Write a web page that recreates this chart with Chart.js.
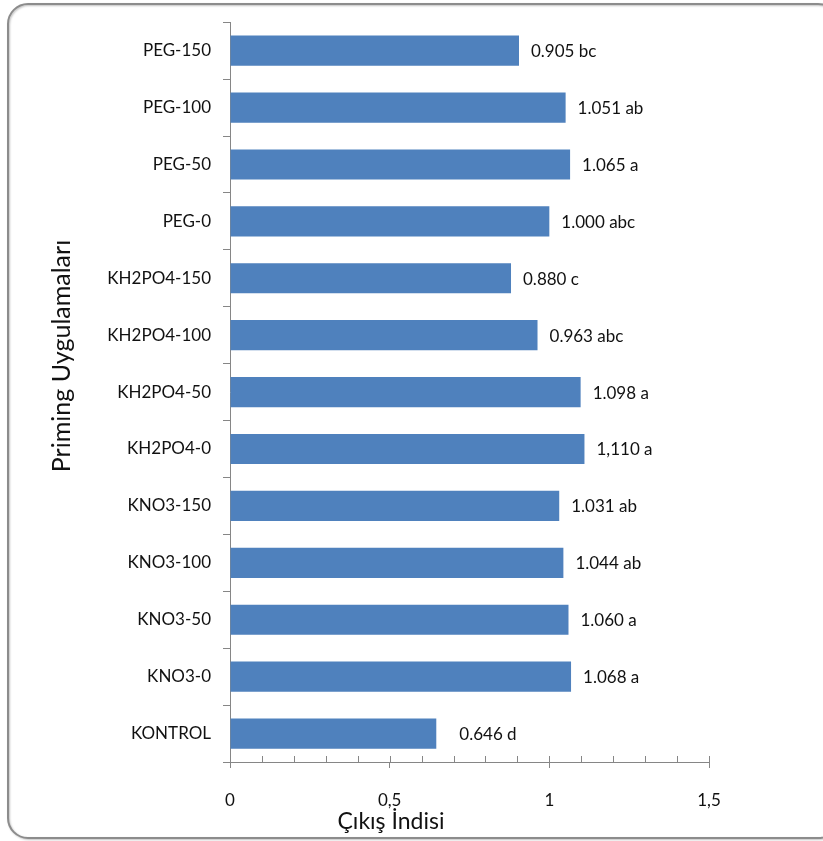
<!DOCTYPE html>
<html>
<head>
<meta charset="utf-8">
<script src="https://cdn.jsdelivr.net/npm/chart.js@4.4.0/dist/chart.umd.min.js"></script>
<style>
  html, body { margin: 0; padding: 0; background: #ffffff; }
  #wrap { width: 823px; height: 841px; position: relative; }
</style>
</head>
<body>
<div id="wrap"><canvas id="chart" width="823" height="841"></canvas></div>
<script>
// Priming treatments, listed top to bottom
const categories = [
  'PEG-150', 'PEG-100', 'PEG-50', 'PEG-0',
  'KH2PO4-150', 'KH2PO4-100', 'KH2PO4-50', 'KH2PO4-0',
  'KNO3-150', 'KNO3-100', 'KNO3-50', 'KNO3-0',
  'KONTROL'
];
// Emergence index per treatment
const values = [0.905, 1.051, 1.065, 1.000, 0.880, 0.963, 1.098, 1.110, 1.031, 1.044, 1.060, 1.068, 0.646];
// Significance groups
const groupLetters = ['bc', 'ab', 'a', 'abc', 'c', 'abc', 'a', 'a', 'ab', 'ab', 'a', 'a', 'd'];
// Decimal mark used in each value label
const decimalMarks = ['.', '.', '.', '.', '.', '.', '.', ',', '.', '.', '.', '.', '.'];
// Labelled x-axis ticks
const xTickValues = [0, 0.5, 1, 1.5];
const xTickLabels = ['0', '0,5', '1', '1,5'];

const FONT = 'Lato, "Liberation Sans", sans-serif';
const AXIS = '#868686';
const BAR = '#4F81BD';
const TEXT = '#111111';

function majorIndex(v) {
  return xTickValues.findIndex(t => Math.abs(t - v) < 1e-6);
}
function valueLabel(i) {
  return values[i].toFixed(3).replace('.', decimalMarks[i]) + ' ' + groupLetters[i];
}

// Rounded outer frame
const framePlugin = {
  id: 'frame',
  beforeDraw(chart) {
    const ctx = chart.ctx;
    ctx.save();
    ctx.shadowColor = 'rgba(0,0,0,0.25)';
    ctx.shadowBlur = 2;
    ctx.shadowOffsetX = 1;
    ctx.shadowOffsetY = 1;
    ctx.strokeStyle = '#8c8c8c';
    ctx.lineWidth = 2;
    ctx.beginPath();
    ctx.roundRect(8, 4, 830, 834, 20);
    ctx.stroke();
    ctx.restore();
  }
};

// Short ticks on the inner side of the value axis
const innerTicksPlugin = {
  id: 'innerTicks',
  afterDatasetsDraw(chart) {
    const xs = chart.scales.x;
    const ctx = chart.ctx;
    ctx.save();
    ctx.strokeStyle = AXIS;
    ctx.lineWidth = 1;
    xs.ticks.forEach(t => {
      const px = Math.round(xs.getPixelForValue(t.value)) + 0.5;
      ctx.beginPath();
      ctx.moveTo(px, xs.top);
      ctx.lineTo(px, xs.top - 6);
      ctx.stroke();
    });
    ctx.restore();
  }
};

// Value + group letters beside each bar
const valueLabelsPlugin = {
  id: 'valueLabels',
  afterDatasetsDraw(chart) {
    const ctx = chart.ctx;
    const meta = chart.getDatasetMeta(0);
    // the control label sits a little further out from its bar
    const extraGap = { KONTROL: 11 };
    ctx.save();
    ctx.fillStyle = TEXT;
    ctx.font = '17px ' + FONT;
    ctx.textAlign = 'left';
    ctx.textBaseline = 'middle';
    meta.data.forEach((bar, i) => {
      const gap = 12 + (extraGap[categories[i]] || 0);
      ctx.fillText(valueLabel(i), bar.x + gap, bar.y + 1);
    });
    ctx.restore();
  }
};

// Axis titles
const axisTitlesPlugin = {
  id: 'axisTitles',
  afterDraw(chart) {
    const ctx = chart.ctx;
    ctx.save();
    ctx.fillStyle = TEXT;
    ctx.textAlign = 'center';
    ctx.textBaseline = 'middle';
    ctx.font = '23px ' + FONT;
    ctx.fillText('Çıkış İndisi', 391, 822);
    ctx.font = '25px ' + FONT;
    ctx.translate(62, 356);
    ctx.rotate(-Math.PI / 2);
    ctx.fillText('Priming Uygulamaları', 0, 0);
    ctx.restore();
  }
};

new Chart(document.getElementById('chart'), {
  type: 'bar',
  data: {
    labels: categories,
    datasets: [{
      data: values,
      backgroundColor: BAR,
      borderWidth: 0,
      barPercentage: 0.53,
      categoryPercentage: 1
    }]
  },
  options: {
    indexAxis: 'y',
    responsive: false,
    animation: false,
    layout: { padding: { left: 0, top: 22, right: 114, bottom: 0 } },
    plugins: {
      legend: { display: false },
      tooltip: { enabled: false }
    },
    scales: {
      x: {
        min: 0,
        max: 1.5,
        ticks: {
          stepSize: 0.1,
          autoSkip: false,
          maxRotation: 0,
          padding: 22,
          color: TEXT,
          font: { family: FONT, size: 17 },
          callback: (v) => {
            const k = majorIndex(v);
            return k >= 0 ? xTickLabels[k] : '';
          }
        },
        grid: {
          drawOnChartArea: false,
          drawTicks: true,
          tickLength: 6,
          color: (c) => (c.tick && majorIndex(c.tick.value) >= 0) ? AXIS : 'rgba(0,0,0,0)'
        },
        border: { color: AXIS, width: 1 },
        afterFit: (s) => { s.height = 79; }
      },
      y: {
        grid: {
          offset: true,
          drawOnChartArea: false,
          drawTicks: true,
          tickLength: 7,
          color: AXIS
        },
        border: { color: AXIS, width: 1 },
        ticks: {
          padding: 12,
          color: TEXT,
          font: { family: FONT, size: 17 }
        },
        afterFit: (s) => { s.width = 230; }
      }
    }
  },
  plugins: [framePlugin, innerTicksPlugin, valueLabelsPlugin, axisTitlesPlugin]
});
</script>
</body>
</html>
